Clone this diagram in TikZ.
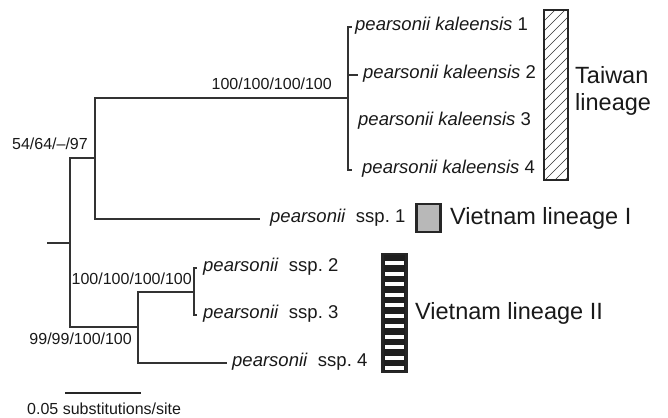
\documentclass[tikz,border=0pt]{standalone}
\usepackage{fontspec}
\setmainfont{Liberation Sans}
\begin{document}
\begin{tikzpicture}[x=1pt,y=-1pt,
    branch/.style={draw=black!80,line width=1.2pt},
    taxon/.style={anchor=west,inner sep=0pt,text=black!90,font=\fontsize{18.5}{22}\selectfont},
    support/.style={inner sep=0pt,text=black!90,font=\fontsize{16}{19}\selectfont},
    lineage/.style={anchor=west,inner sep=0pt,align=left,text=black!90,font=\fontsize{23.5}{27}\selectfont},
    lineagebox/.style={draw=black!85,line width=2.2pt,inner sep=0pt,minimum width=24pt}]
	\useasboundingbox (0,0) rectangle (668,417);
	% inner nodes of the tree
	\coordinate (stem) at (47,243);
	\coordinate (root) at (70,243);
	\coordinate (nA) at (95,158);
	\coordinate (nTW) at (348,98);
	\coordinate (nV2) at (138,327);
	\coordinate (nV23) at (194,292);
	% tips
	\foreach \n/\x/\y in {tw1/352/27,tw2/358/75,tw3/348/122,tw4/352/170,
		vn1/260/219,vn2/197/268,vn3/197/315,vn4/227/363}
		\coordinate (\n) at (\x,\y);
	\draw[branch] (stem) -- (root) (root) |- (nA) (root) |- (nV2)
		(nA) |- (nTW) (nA) |- (vn1)
		(nTW) |- (tw1) (nTW) |- (tw4) (nTW |- tw2) -- (tw2)
		(nV2) |- (nV23) (nV2) |- (vn4)
		(nV23) |- (vn2) (nV23) |- (vn3);
	% taxa
	\foreach \n/\x/\y/\k in {tw1/355/26/1,tw2/363/74/2,tw3/358/121/3,tw4/362/169/4}
		\node[taxon] (l\n) at (\x,\y) {\textit{pearsonii kaleensis} \k};
	\foreach \n/\x/\y/\k in {vn1/270/218/1,vn2/203/267/2,vn3/203/314/3,vn4/232/362/4}
		\node[taxon] (l\n) at (\x,\y) {\textit{pearsonii}\ \ ssp.\ \k};
	% support values
	\node[support,anchor=east] (sRoot) at (88,144) {54/64/--/97};
	\node[support,anchor=east] (sTW) at (332,84) {100/100/100/100};
	\node[support,anchor=east] (sV23) at (192,279) {100/100/100/100};
	\node[support,anchor=east] (sV2) at (132,339) {99/99/100/100};
	% lineage boxes
	\node[lineagebox,minimum height=170pt,path picture={
		\foreach \k in {0,...,20}
			\draw[black!80,line width=0.5pt] (-16,-90+\k*10) -- ++(32,-32);}] (bTW) at (556,95) {};
	\node[lineagebox,minimum height=28pt,fill=black!28] (bV1) at (428.5,218) {};
	\node[lineagebox,minimum height=118pt,fill=black!88,path picture={
		\foreach \k in {0,...,10}
			\fill[white] (-9.5,-52+\k*10.5) rectangle (9.5,-48+\k*10.5);}] (bV2) at (394.5,313) {};
	\node[lineage] (lTW) at (575,91) {Taiwan\\lineage};
	\node[lineage] (lV1) at (450,218) {Vietnam lineage I};
	\node[lineage] (lV2) at (415,313) {Vietnam lineage II};
	% scale
	\coordinate (sc1) at (65,393);
	\coordinate (sc2) at (141,393);
	\draw[draw=black!85,line width=2.2pt] (sc1) -- (sc2);
	\node[support,anchor=west] (lsc) at (27,409) {0.05 substitutions/site};
\end{tikzpicture}
\end{document}
